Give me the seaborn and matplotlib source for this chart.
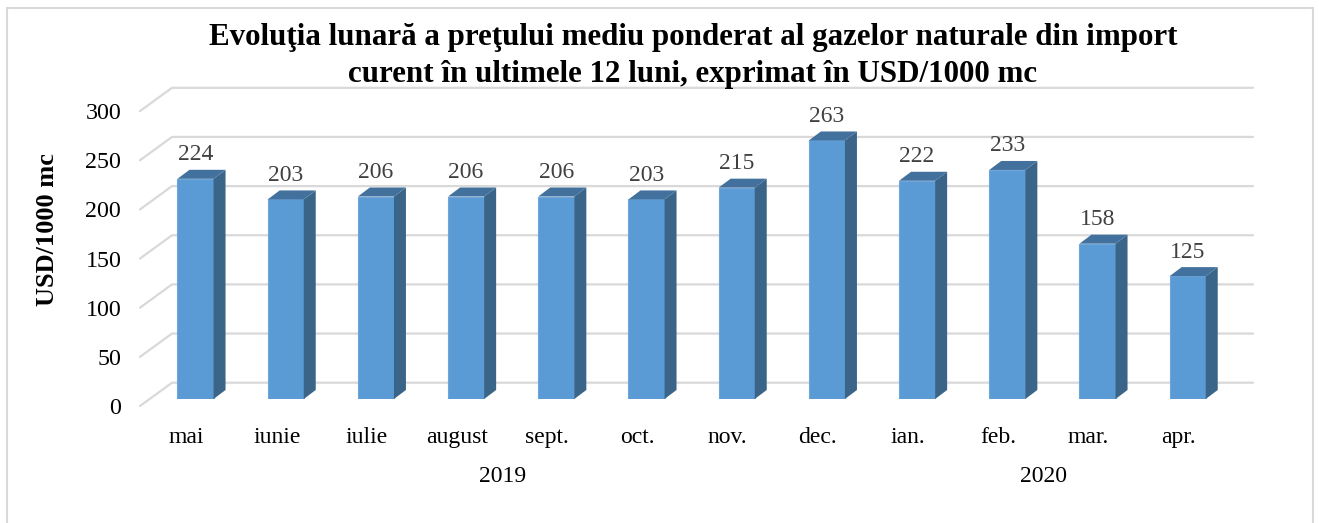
import seaborn as sns
import matplotlib.pyplot as plt
from matplotlib.patches import Polygon, Rectangle
from matplotlib.transforms import ScaledTranslation, blended_transform_factory

months = ["mai", "iunie", "iulie", "august", "sept.", "oct.", "nov.", "dec.",
          "ian.", "feb.", "mar.", "apr."]
prices = [224, 203, 206, 206, 206, 203, 215, 263, 222, 233, 158, 125]
y_ticks = [0, 50, 100, 150, 200, 250, 300]
years = ["2019", "2020"]
year_first = [0, 8]
year_last = [7, 11]
title = ("Evoluţia lunară a preţului mediu ponderat al gazelor naturale din import\n"
         "curent în ultimele 12 luni, exprimat în USD/1000 mc")

W, H = 1319, 523
PX_X = 90.2    # pixels per category
PX_Y = 0.983   # pixels per USD
X0 = 195.5     # pixel of first bar centre
Y0 = 399       # pixel of value 0 on the bar front
LEFT, RIGHT = 140, 1253

sns.set_theme(style="white")
plt.rcParams["font.family"] = ["Liberation Serif", "DejaVu Serif"]

fig = plt.figure(figsize=(W / 100, H / 100), dpi=100)
fig.patches.append(Rectangle((7 / W, -0.05), 1306 / W, 1.05 - 8 / H, transform=fig.transFigure,
                             fill=False, ec="#d9d9d9", lw=1.5))
ax = fig.add_axes([LEFT / W, 1 - Y0 / H, (RIGHT - LEFT) / W, 300 * PX_Y / H])

sns.barplot(x=months, y=prices, width=0.4, color="#5b9bd5", saturation=1,
            edgecolor="#6ea6da", linewidth=0.8, ax=ax, zorder=3)
ax.set_xlim((LEFT - X0) / PX_X, (RIGHT - X0) / PX_X)
ax.set_ylim(0, 300)
sns.despine(ax=ax, left=True, bottom=True, top=True, right=True)

# fake 3d: depth of the bars and of the back wall, in data units
bar_dx, bar_dy = 12 / PX_X, 9 / PX_Y
wall_x0 = ax.get_xlim()[0]
wall_x1 = (172 - X0) / PX_X
front_dy = -7 / PX_Y
back_dy = 16.3 / PX_Y
for v in y_ticks:
    ax.plot([wall_x0, wall_x1, ax.get_xlim()[1]],
            [v + front_dy, v + back_dy, v + back_dy],
            color="#d9d9d9", lw=1.6, clip_on=False, zorder=1, solid_joinstyle="round")

for i, v in enumerate(prices):
    x0, x1 = i - 0.2, i + 0.2
    ax.add_patch(Polygon([(x1, 0), (x1 + bar_dx, bar_dy), (x1 + bar_dx, v + bar_dy), (x1, v)],
                         fc="#3a6589", ec="none", zorder=3, clip_on=False))
    ax.add_patch(Polygon([(x0, v), (x0 + bar_dx, v + bar_dy), (x1 + bar_dx, v + bar_dy), (x1, v)],
                         fc="#41719c", ec="none", zorder=3, clip_on=False))
    ax.annotate(str(v), (i, v), xytext=(0, 24), textcoords="offset pixels", ha="center",
                va="center", fontsize=17, color="#404040", zorder=4)

ax.set_yticks(y_ticks)
ax.set_yticklabels([str(v) for v in y_ticks], fontsize=17.3, color="black")
ax.tick_params(axis="y", length=0, pad=13.5)
ax.tick_params(axis="x", length=0, pad=20)
ax.set_xticks(range(len(months)))
ax.set_xticklabels(months, fontsize=17, color="black")
y_shift = ScaledTranslation(0, -7 / 100, fig.dpi_scale_trans)
x_shift = ScaledTranslation(-9 / 100, 0, fig.dpi_scale_trans)
for lab in ax.get_yticklabels():
    lab.set_transform(lab.get_transform() + y_shift)
for lab in ax.get_xticklabels():
    lab.set_transform(lab.get_transform() + x_shift)

# year level of the category axis
year_tr = blended_transform_factory(ax.transData + x_shift, fig.transFigure)
for name, a, b in zip(years, year_first, year_last):
    ax.text((a + b) / 2, 1 - 477 / H, name, transform=year_tr, ha="center", va="center",
            fontsize=17, color="black")

fig.text(48 / W, 1 - 230 / H, "USD/1000 mc", rotation=90, ha="center", va="center",
         fontsize=19, fontweight="bold", color="black")
fig.text(693 / W, 1 - 56 / H, title, ha="center", va="center", fontsize=22.35,
         fontweight="bold", color="black", linespacing=1.38)

fig.savefig("out.png", dpi=100, facecolor="white")
